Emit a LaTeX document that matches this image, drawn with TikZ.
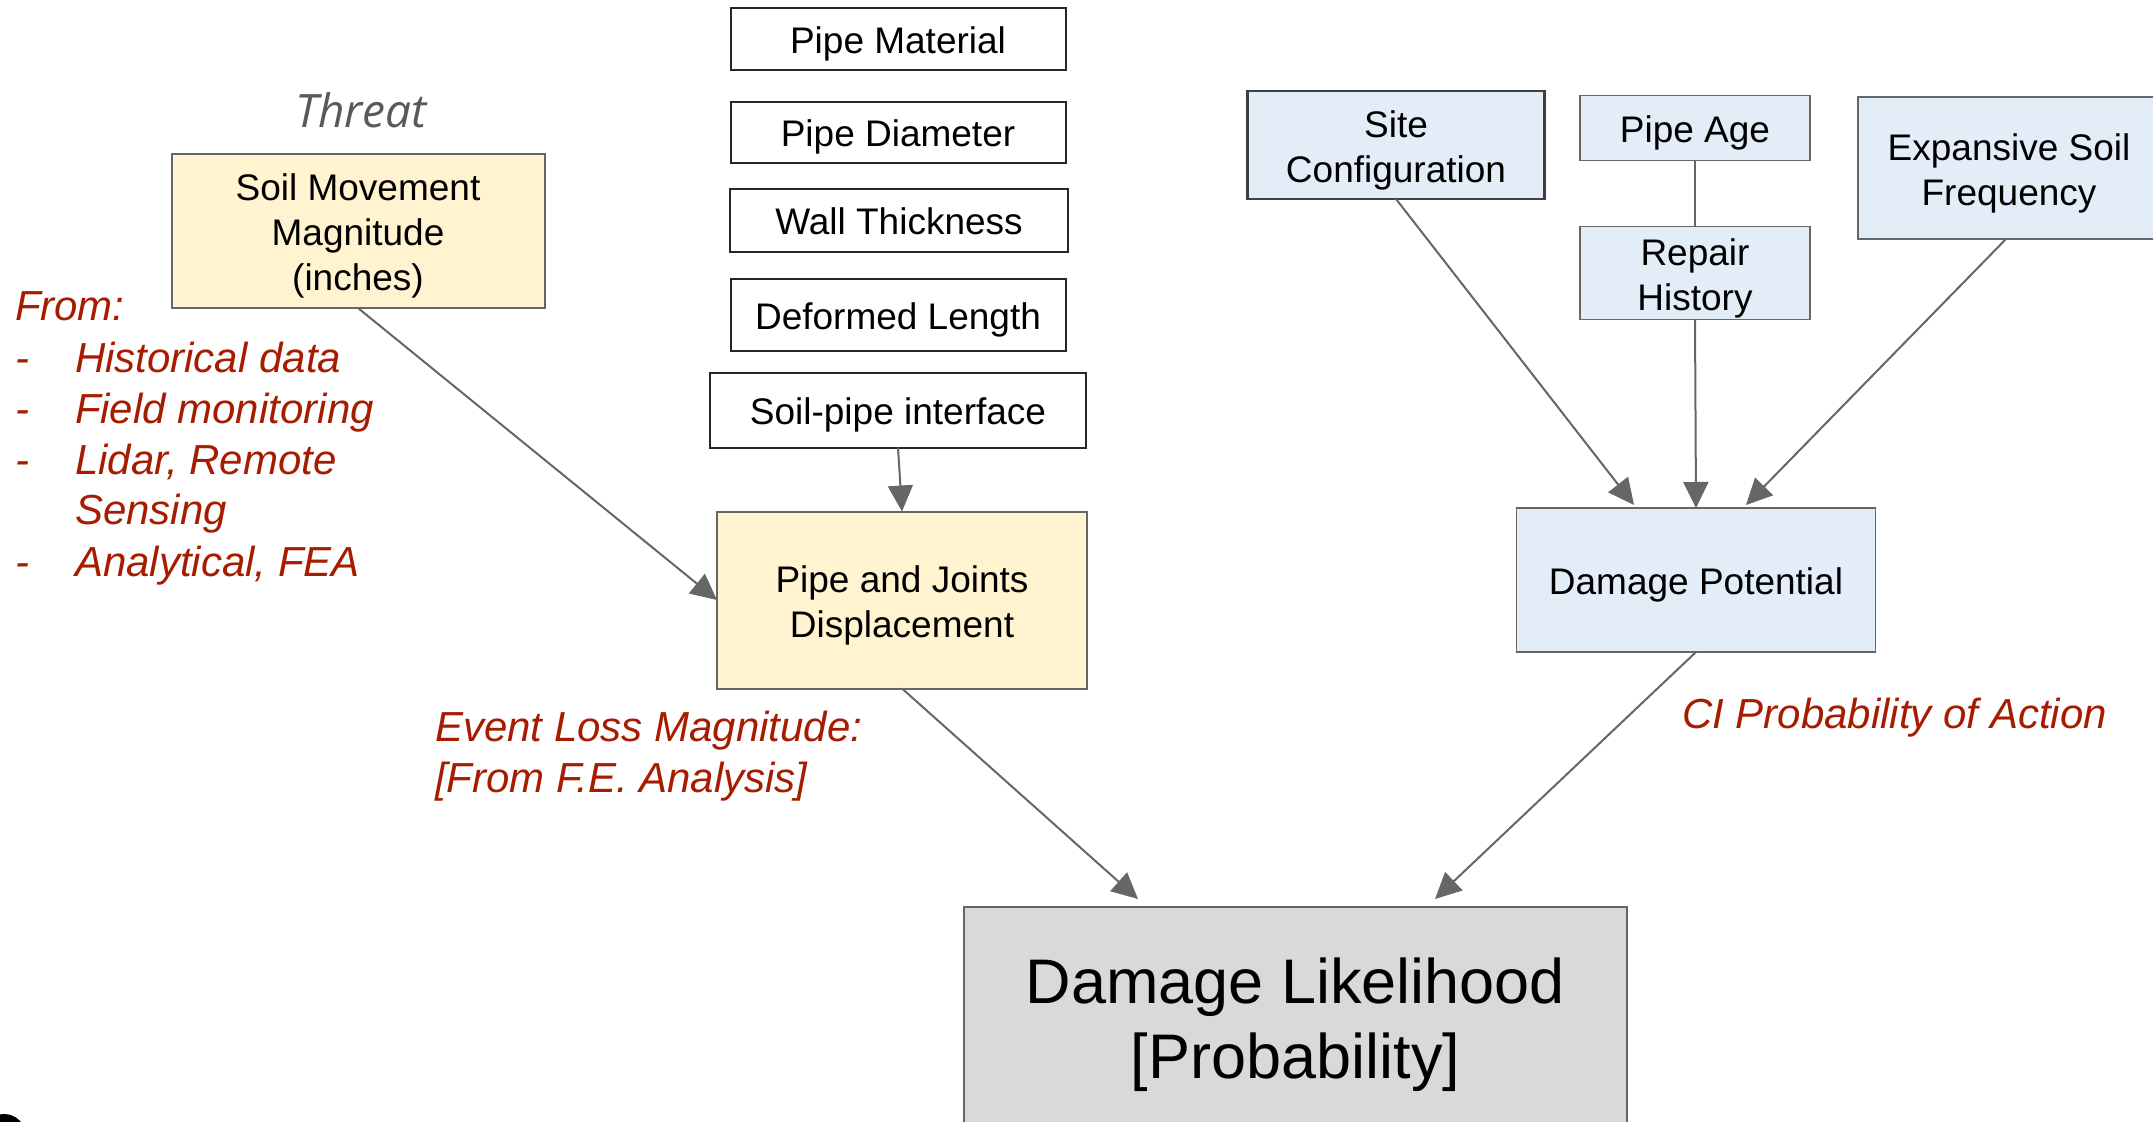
\documentclass[tikz,border=0pt]{standalone}
\usepackage{fontspec}
\setmainfont{Liberation Sans}
\newfontfamily\threatfont{Open Sans}
\usetikzlibrary{arrows.meta,calc}
\definecolor{lineg}{HTML}{666666}
\definecolor{yelfill}{HTML}{FFF3D0}
\definecolor{bluefill}{HTML}{E3EDF8}
\definecolor{grayfill}{HTML}{D9D9D9}
\definecolor{redtxt}{HTML}{A61C00}
\definecolor{threatg}{HTML}{595959}
\newcommand{\boxstrut}{\rule[-0.21em]{0pt}{1.21em}}
\newcommand{\firstln}{\rule{0pt}{1.0em}}
\begin{document}
\begin{tikzpicture}[x=1pt,y=-1pt,
  every node/.style={inner sep=0pt, outer sep=0pt},
  box/.style={draw=black!85, line width=2pt, align=center,
     font=\fontsize{37}{45}\selectfont,
     execute at begin node=\boxstrut, execute at end node=\boxstrut},
  ybox/.style={box, draw=lineg, fill=yelfill},
  bbox/.style={box, draw=lineg, fill=bluefill, line width=1.6pt},
  conn/.style={draw=lineg, line width=2pt,
     -{Triangle[length=26pt,width=25pt]}},
  redt/.style={text=redtxt, font=\fontsize{42}{51}\selectfont\itshape, anchor=base west},
]
\useasboundingbox (0,0) rectangle (2153,1122);

% left column of parameters
\node[box, minimum width=335, minimum height=62] (pm) at (898,39) {Pipe Material};
\node[box, minimum width=335, minimum height=61] (pd) at (898,132) {Pipe Diameter};
\node[box, minimum width=338, minimum height=63] (wt) at (899,220) {Wall Thickness};
\node[box, minimum width=335, minimum height=72] (dl) at (898,315) {Deformed Length};
\node[box, minimum width=376, minimum height=75] (spi) at (898,410) {Soil-pipe interface};

\node[ybox, minimum width=370, minimum height=177] (pjd) at (902,600) {\firstln Pipe and Joints\\Displacement};
\node[ybox, minimum width=373, minimum height=154] (smm) at (358,231) {\firstln Soil Movement\\Magnitude\\(inches)};

\node[text=threatg, font=\threatfont\itshape\fontsize{46}{52}\selectfont] (threat) at (361,110) {Threat};

% right column
\node[bbox, draw=black!75, line width=2.6pt, minimum width=297, minimum height=108] (sc) at (1396,145) {\firstln Site\\Configuration};
\node[bbox, minimum width=230, minimum height=65] (pa) at (1695,128) {Pipe Age};
\node[bbox, minimum width=230, minimum height=93] (rh) at (1695,273) {\firstln Repair\\History};
\node[bbox, minimum width=302, minimum height=142] (esf) at (2009,168) {\firstln Expansive Soil\\Frequency};
\node[bbox, minimum width=359, minimum height=144] (dp) at (1696,580) {Damage Potential};

% result
\node[box, draw=lineg, fill=grayfill, line width=2pt, minimum width=663, minimum height=222,
      font=\fontsize{63}{75}\selectfont] (dlik) at (1295.5,1018) {\rule{0pt}{0.95em}Damage Likelihood\\{}[Probability]};

% arrow end points
\coordinate (t1) at (1138,899);
\coordinate (t2) at (1435,899);
\coordinate (t3) at (1634,505);
\coordinate (t4) at (1746,505);

% connectors
\draw[conn] (smm.south) -- (pjd.west);
\draw[conn] (spi.south) -- (pjd.north);
\draw[conn] (pjd.south) -- (t1);
\draw[conn] (dp.south) -- (t2);
\draw[conn] (sc.south) -- (t3);
\draw[conn] (rh.south) -- (dp.north);
\draw[conn] ($(esf.south)+(-3,0)$) -- (t4);
\draw[draw=lineg, line width=2pt] (pa.south) -- (rh.north);

% red annotations
\node[redt] (f0) at (15,320) {From:};
\node[redt] (d1) at (15,372) {-};
\node[redt] (f1) at (75,372) {Historical data};
\node[redt] (d2) at (15,423) {-};
\node[redt] (f2) at (75,423) {Field monitoring};
\node[redt] (d3) at (15,474) {-};
\node[redt] (f3) at (75,474) {Lidar, Remote};
\node[redt] (f4) at (75,524) {Sensing};
\node[redt] (d4) at (15,576) {-};
\node[redt] (f5) at (75,576) {Analytical, FEA};

\node[redt] (el1) at (435,741) {Event Loss Magnitude:};
\node[redt] (el2) at (435,792) {[From F.E. Analysis]};
\node[redt] (ci) at (1682,728) {CI Probability of Action};

% partial glyph at bottom-left edge
\fill[black] (4,1136) circle (22);
\end{tikzpicture}
\end{document}
